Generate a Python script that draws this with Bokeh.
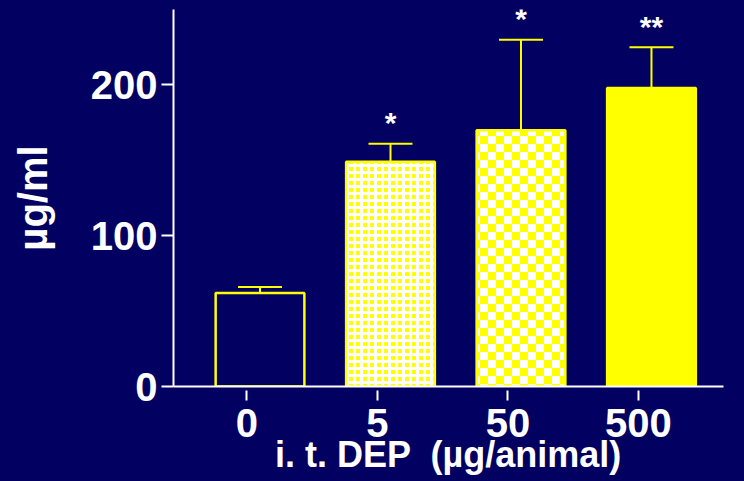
import zlib, struct, base64
from bokeh.plotting import figure
from bokeh.models import (Range1d, FixedTicker, Whisker, TeeHead, ColumnDataSource,
                          ImageURLTexture)
from bokeh.core.properties import value
from bokeh.embed import file_html
from bokeh.resources import INLINE

# ---- data ----
doses = ["0", "5", "50", "500"]
means = [62, 149, 170, 198]
errors = [4, 12, 60, 27]
stars = ["", "*", "*", "**"]
y_ticks = [0, 100, 200]

# ---- styles ----
BG = "#020060"
YEL = "#ffff00"
FONT = value("Liberation Sans")
bar_fills = [BG, YEL, YEL, YEL]
bar_hatches = ["blank", "cross", "checker", "blank"]


def checker_png(cell=8):
    """Yellow/white checkerboard tile as a PNG data URL."""
    n = cell * 2
    rows = []
    for yy in range(n):
        row = bytearray(b"\x00")
        for xx in range(n):
            if ((xx // cell) + (yy // cell)) % 2 == 0:
                row += bytes([255, 255, 255, 255])
            else:
                row += bytes([255, 255, 0, 255])
        rows.append(bytes(row))
    raw = b"".join(rows)

    def chunk(t, d):
        return (struct.pack(">I", len(d)) + t + d +
                struct.pack(">I", zlib.crc32(t + d) & 0xFFFFFFFF))

    data = (b"\x89PNG\r\n\x1a\n" +
            chunk(b"IHDR", struct.pack(">IIBBBBB", n, n, 8, 6, 0, 0, 0)) +
            chunk(b"IDAT", zlib.compress(raw)) +
            chunk(b"IEND", b""))
    return "data:image/png;base64," + base64.b64encode(data).decode()


xs = list(range(len(doses)))
upper = [m + e for m, e in zip(means, errors)]

src = ColumnDataSource(dict(x=xs, top=means, upper=upper, stars=stars,
                            fill=bar_fills, hatch=bar_hatches))

p = figure(width=744, height=481,
           x_range=Range1d(-0.663, 3.552), y_range=Range1d(0, 250),
           output_backend="svg", toolbar_location=None,
           background_fill_color=BG, border_fill_color=BG,
           min_border_left=173, min_border_right=21,
           min_border_top=9, min_border_bottom=95)
p.styles = {"background-color": BG}
p.outline_line_color = None
p.grid.visible = False

checker = ImageURLTexture(url=checker_png(8), repetition="repeat")

p.vbar(x="x", top="top", bottom=0, width=0.68, source=src,
       fill_color="fill", line_color=YEL, line_width=2.5,
       hatch_pattern="hatch", hatch_color="white", hatch_scale=7,
       hatch_weight=3, hatch_extra={"checker": checker})

p.add_layout(Whisker(source=src, base="x", lower="top", upper="upper",
                     dimension="height", line_color=YEL, line_width=2,
                     upper_head=TeeHead(size=44, line_color=YEL, line_width=2),
                     lower_head=None))

p.text(x="x", y="upper", text="stars", source=src, text_color="white",
       text_font=FONT, text_font_style="bold", text_font_size="30px",
       text_align="center", text_baseline="alphabetic", y_offset=-21)

# y axis
ya = p.yaxis[0]
ya.ticker = FixedTicker(ticks=y_ticks)
ya.axis_line_color = "white"
ya.axis_line_width = 2
ya.major_tick_line_color = "white"
ya.major_tick_line_width = 2
ya.major_tick_out = 12
ya.major_tick_in = 0
ya.minor_tick_line_color = None
ya.major_label_text_color = "white"
ya.major_label_text_font = "Liberation Sans"
ya.major_label_text_font_style = "bold"
ya.major_label_text_font_size = "40px"
ya.major_label_standoff = 4
ya.axis_label = "µg/ml"
ya.axis_label_text_color = "white"
ya.axis_label_text_font = "Liberation Sans"
ya.axis_label_text_font_style = "bold"
ya.axis_label_text_font_size = "40px"
ya.axis_label_standoff = 33

# x axis
tick_pos = [x - 0.1 for x in xs]
xa = p.xaxis[0]
xa.ticker = FixedTicker(ticks=tick_pos)
xa.major_label_overrides = {t: d for t, d in zip(tick_pos, doses)}
xa.axis_line_color = "white"
xa.axis_line_width = 2
xa.major_tick_line_color = "white"
xa.major_tick_line_width = 2
xa.major_tick_in = -4
xa.major_tick_out = 14
xa.minor_tick_line_color = None
xa.major_label_text_color = "white"
xa.major_label_text_font = "Liberation Sans"
xa.major_label_text_font_style = "bold"
xa.major_label_text_font_size = "40px"
xa.major_label_standoff = 8
xa.axis_label = "i. t. DEP \u00a0(µg/animal)"
xa.axis_label_text_color = "white"
xa.axis_label_text_font = "Liberation Sans"
xa.axis_label_text_font_style = "bold"
xa.axis_label_text_font_size = "36px"
xa.axis_label_standoff = -6

open("out.html", "w").write(file_html(p, INLINE))
